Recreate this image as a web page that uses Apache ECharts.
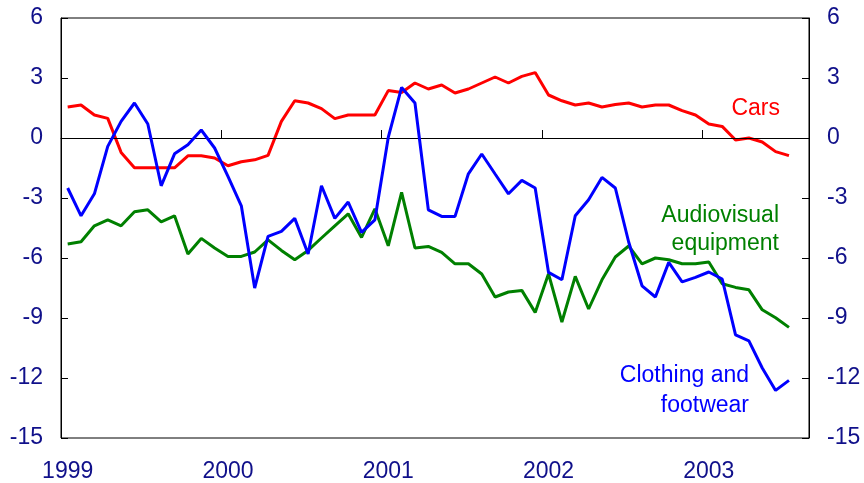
<!DOCTYPE html>
<html>
<head>
<meta charset="utf-8">
<script src="https://cdn.jsdelivr.net/npm/echarts@6/dist/echarts.min.js"></script>
<style>
html,body{margin:0;padding:0;background:#fff;}
#chart{width:864px;height:483px;}
</style>
</head>
<body>
<div id="chart"></div>
<script>
// Monthly categories Jan 1999 .. Aug 2003
var startYear = 1999, nMonths = 56;
var months = [];
for (var k = 0; k < nMonths; k++) {
  var yy = startYear + Math.floor(k / 12), mm = (k % 12) + 1;
  months.push(yy + '-' + (mm < 10 ? '0' + mm : mm));
}
var yTicks = [-15, -12, -9, -6, -3, 0, 3, 6];

var cars = [1.55,1.65,1.15,0.98,-0.72,-1.49,-1.49,-1.49,-1.49,-0.89,-0.89,-1.0,-1.39,-1.19,-1.09,-0.87,0.83,1.86,1.75,1.47,0.97,1.15,1.15,1.15,2.37,2.28,2.75,2.45,2.65,2.25,2.45,2.75,3.05,2.75,3.08,3.27,2.15,1.86,1.65,1.75,1.55,1.67,1.75,1.55,1.65,1.65,1.37,1.15,0.70,0.58,-0.1,0.0,-0.2,-0.68,-0.88];
var audiovisual = [-5.3,-5.19,-4.39,-4.09,-4.39,-3.69,-3.59,-4.19,-3.89,-5.8,-5.02,-5.5,-5.92,-5.92,-5.7,-5.09,-5.62,-6.09,-5.62,-5.0,-4.39,-3.79,-4.97,-3.54,-5.39,-2.72,-5.5,-5.42,-5.72,-6.29,-6.29,-6.8,-7.95,-7.7,-7.62,-8.72,-6.79,-9.2,-6.92,-8.55,-7.09,-5.95,-5.4,-6.29,-6.0,-6.09,-6.29,-6.29,-6.2,-7.29,-7.47,-7.59,-8.59,-8.99,-9.47];
var clothing = [-2.5,-3.89,-2.79,-0.42,0.83,1.75,0.70,-2.39,-0.79,-0.34,0.40,-0.5,-1.92,-3.39,-7.5,-4.92,-4.67,-4.02,-5.8,-2.39,-4.02,-3.2,-4.72,-4.09,0.03,2.53,1.75,-3.59,-3.92,-3.92,-1.79,-0.8,-1.8,-2.79,-2.12,-2.5,-6.72,-7.09,-3.89,-3.09,-1.97,-2.5,-5.2,-7.39,-7.95,-6.22,-7.19,-6.97,-6.7,-7.05,-9.84,-10.14,-11.5,-12.62,-12.12];

var FONT = '"Liberation Sans", Arial, sans-serif';
var LABEL_COLOR = '#10108a';

var chart = echarts.init(document.getElementById('chart'), null, {renderer: 'canvas'});

function yAxisCfg(pos) {
  return {
    type: 'value', position: pos,
    min: yTicks[0], max: yTicks[yTicks.length - 1], interval: 3,
    axisLine: {show: true, lineStyle: {color: '#000', width: 1}},
    axisTick: {show: true, inside: true, length: 7, lineStyle: {color: '#000'}},
    axisLabel: {color: LABEL_COLOR, fontSize: 23, fontFamily: FONT, margin: 18},
    splitLine: {show: false}
  };
}

function lineSeries(name, data, color, z) {
  return {
    name: name, type: 'line', data: data, symbol: 'none', z: z,
    lineStyle: {color: color, width: 3}, itemStyle: {color: color},
    animation: false
  };
}

var green = lineSeries('Audiovisual equipment', audiovisual, '#008000', 3);
green.markLine = {
  silent: true, symbol: ['none', 'none'], label: {show: false},
  lineStyle: {color: '#000', width: 1, type: 'solid'},
  data: [{yAxis: 0}], animation: false
};

chart.setOption({
  animation: false,
  grid: {left: 61, right: 55, top: 18, bottom: 45, show: true, borderColor: '#000', borderWidth: 1, backgroundColor: 'transparent'},
  xAxis: {
    type: 'category', data: months, boundaryGap: true,
    axisLine: {show: true, lineStyle: {color: '#000', width: 1}},
    axisTick: {show: true, inside: true, length: 8, alignWithLabel: false,
      interval: function (i) { return i % 12 === 0; }, lineStyle: {color: '#000'}},
    axisLabel: {color: LABEL_COLOR, fontSize: 23, fontFamily: FONT, margin: 22,
      interval: function (i) { return i % 12 === 0; },
      formatter: function (v) { return v.slice(0, 4); }},
    splitLine: {show: false}
  },
  yAxis: [yAxisCfg('left'), yAxisCfg('right')],
  series: [
    green,
    lineSeries('Cars', cars, '#ff0000', 4),
    lineSeries('Clothing and footwear', clothing, '#0000ff', 5)
  ],
  graphic: [
    {type: 'text', x: 780, y: 109, z: 10, style: {text: 'Cars', fill: '#ff0000', font: '23px ' + FONT, textAlign: 'right', textVerticalAlign: 'middle'}},
    {type: 'text', x: 779, y: 230, z: 10, style: {text: 'Audiovisual\nequipment', fill: '#008000', font: '23px ' + FONT, textAlign: 'right', textVerticalAlign: 'middle', lineHeight: 28}},
    {type: 'text', x: 749, y: 391, z: 10, style: {text: 'Clothing and\nfootwear', fill: '#0000ff', font: '23px ' + FONT, textAlign: 'right', textVerticalAlign: 'middle', lineHeight: 30}}
  ]
});
</script>
</body>
</html>
